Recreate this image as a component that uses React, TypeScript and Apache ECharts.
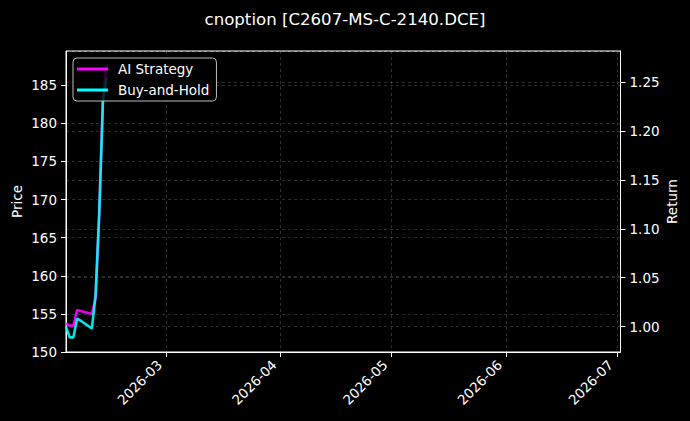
import * as echarts from 'echarts';
import React, { useEffect, useRef } from 'react';

const dates = [
  '2026-02-02', '2026-02-03', '2026-02-04', '2026-02-05', '2026-02-06',
  '2026-02-09', '2026-02-10', '2026-02-11', '2026-02-12', '2026-02-13',
];
const aiStrategy = [1.003, 1.001, 1.001, 1.017, 1.016, 1.013, 1.029, 1.115, 1.235, 1.268];
const buyAndHold = [1.0, 0.989, 0.989, 1.008, 1.006, 0.998, 1.032, 1.117, 1.232, 1.255];
const price = [153.4, 151.8, 151.8, 154.6, 154.3, 153.1, 158.4, 171.4, 184.0, 187.7];

const toTime = (d: string) => {
  const [y, m, day] = d.split('-').map(Number);
  return Date.UTC(y, m - 1, day);
};

const FONT = 'DejaVu Sans';
const GRID_COLOR = 'rgba(255,255,255,0.22)';
const TICK_SIZE = 13.5;

const App: React.FC = () => {
  const chartRef = useRef<HTMLDivElement>(null);

  useEffect(() => {
    if (!chartRef.current) return;
    const chart = echarts.init(chartRef.current, undefined, { renderer: 'svg' });

    const option: echarts.EChartsOption = {
      animation: false,
      useUTC: true,
      backgroundColor: '#000',
      textStyle: { fontFamily: FONT, color: '#fff' },
      title: {
        text: 'cnoption [C2607-MS-C-2140.DCE]',
        left: 'center',
        top: 6,
        textStyle: { color: '#fff', fontSize: 16.6, fontWeight: 'normal', fontFamily: FONT },
      },
      legend: {
        orient: 'vertical',
        left: 73,
        top: 58,
        padding: [4, 7, 4, 4],
        itemWidth: 31,
        itemHeight: 3,
        itemGap: 7,
        icon: 'rect',
        backgroundColor: 'rgba(0,0,0,0.8)',
        borderColor: '#bbb',
        borderWidth: 1,
        borderRadius: 4,
        textStyle: { color: '#fff', fontSize: 13.5, fontFamily: FONT, padding: [0, 0, 0, 5] },
        data: ['AI Strategy', 'Buy-and-Hold'],
      },
      grid: {
        left: 66,
        right: 69.5,
        top: 51,
        bottom: 69,
        show: true,
        borderColor: '#fff',
        borderWidth: 1,
        backgroundColor: 'transparent',
      },
      xAxis: {
        type: 'time',
        min: toTime('2026-02-02'),
        max: toTime('2026-07-02'),
        minInterval: 28 * 86400000,
        maxInterval: 31 * 86400000,
        axisLine: { lineStyle: { color: '#fff' } },
        axisTick: { lineStyle: { color: '#fff' }, length: 5 },
        axisLabel: {
          color: '#fff',
          fontSize: TICK_SIZE,
          fontFamily: FONT,
          rotate: 45,
          margin: 4,
          padding: [0, 9, 0, 0],
          showMinLabel: false,
          showMaxLabel: false,
          formatter: (v: number) => {
            const d = new Date(v);
            return `${d.getUTCFullYear()}-${String(d.getUTCMonth() + 1).padStart(2, '0')}`;
          },
        },
        splitLine: { show: true, lineStyle: { color: GRID_COLOR, type: [3, 3], width: 0.8 } },
      },
      yAxis: [
        {
          type: 'value',
          name: 'Price',
          nameLocation: 'middle',
          nameGap: 42,
          nameMoveOverlap: false,
          nameTextStyle: { color: '#fff', fontSize: 13.5, fontFamily: FONT },
          min: 150,
          max: 189.5,
          splitNumber: 8,
          axisLine: { show: true, lineStyle: { color: '#fff' } },
          axisTick: { show: true, lineStyle: { color: '#fff' }, length: 5 },
          axisLabel: {
            color: '#fff',
            fontSize: TICK_SIZE,
            fontFamily: FONT,
            margin: 9,
            showMaxLabel: false,
            formatter: (v: number) => String(Math.round(v)),
          },
          splitLine: { show: true, lineStyle: { color: GRID_COLOR, type: [3, 3], width: 0.8 } },
        },
        {
          type: 'value',
          name: 'Return',
          nameLocation: 'middle',
          nameGap: 44,
          nameMoveOverlap: false,
          nameTextStyle: { color: '#fff', fontSize: 13.5, fontFamily: FONT },
          min: 0.974,
          max: 1.282,
          splitNumber: 6,
          position: 'right',
          axisLine: { show: true, lineStyle: { color: '#fff' } },
          axisTick: { show: true, lineStyle: { color: '#fff' }, length: 5 },
          axisLabel: {
            color: '#fff',
            fontSize: TICK_SIZE,
            fontFamily: FONT,
            margin: 9,
            showMinLabel: false,
            showMaxLabel: false,
            formatter: (v: number) => v.toFixed(2),
          },
          splitLine: { show: true, lineStyle: { color: GRID_COLOR, type: [3, 3], width: 0.8 } },
        },
      ],
      series: [
        {
          name: 'Price',
          type: 'line',
          yAxisIndex: 0,
          symbol: 'none',
          data: dates.map((d, i) => [toTime(d), price[i]]),
          lineStyle: { color: 'rgba(200,30,60,0.18)', width: 1.5 },
          itemStyle: { color: 'rgba(200,30,60,0.18)' },
          z: 1,
        },
        {
          name: 'AI Strategy',
          type: 'line',
          yAxisIndex: 1,
          symbol: 'none',
          data: dates.map((d, i) => [toTime(d), aiStrategy[i]]),
          lineStyle: { color: '#ff00ff', width: 2.6, opacity: 0.9 },
          itemStyle: { color: '#ff00ff' },
          z: 2,
        },
        {
          name: 'Buy-and-Hold',
          type: 'line',
          yAxisIndex: 1,
          symbol: 'none',
          data: dates.map((d, i) => [toTime(d), buyAndHold[i]]),
          lineStyle: { color: '#00ffff', width: 2.6, opacity: 0.9 },
          itemStyle: { color: '#00ffff' },
          z: 3,
        },
      ],
    };

    chart.setOption(option);

    const handleResize = () => chart.resize();
    window.addEventListener('resize', handleResize);
    return () => {
      window.removeEventListener('resize', handleResize);
      chart.dispose();
    };
  }, []);

  return (
    <div
      ref={chartRef}
      style={{ position: 'fixed', left: 0, top: 0, width: '690px', height: '421px', background: '#000' }}
    />
  );
};

export default App;
